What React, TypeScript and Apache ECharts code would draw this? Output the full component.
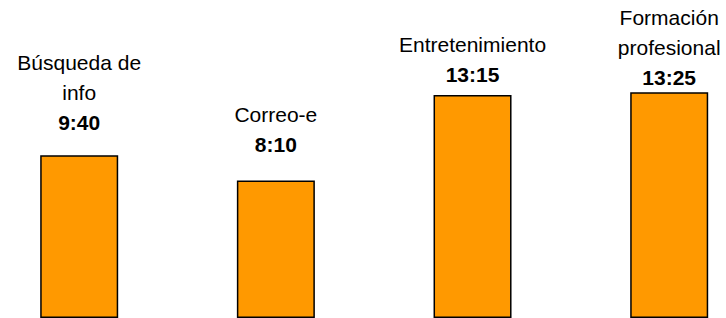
import React, { useEffect, useRef } from "react";
import * as echarts from "echarts";

const categories = ["Búsqueda de\ninfo", "Correo-e", "Entretenimiento", "Formación\nprofesional"];
const minutes = [580, 490, 795, 805];
const valueLabels = ["9:40", "8:10", "13:15", "13:25"];
const labelGap = [18, 21, 6, 0];

export default function App() {
  const ref = useRef<HTMLDivElement>(null);
  useEffect(() => {
    if (!ref.current) return;
    const chart = echarts.init(ref.current, null, { renderer: "svg" });
    const font = "'Liberation Sans', Arial, Helvetica, sans-serif";
    chart.setOption({
      animation: false,
      grid: { left: 0, right: 0, top: 37.5, bottom: 0, containLabel: false },
      xAxis: {
        type: "value",
        min: -0.4027,
        max: 3.2888,
        show: false,
        splitLine: { show: false },
      },
      yAxis: {
        type: "value",
        min: 0,
        max: 1000,
        show: false,
        splitLine: { show: false },
      },
      series: [
        {
          type: "bar",
          barWidth: 78,
          data: minutes.map((v, i) => ({
            value: [i, v],
            label: { distance: labelGap[i] },
          })),
          itemStyle: { color: "#FF9900", borderColor: "#000", borderWidth: 1.5 },
          label: {
            show: true,
            position: "top",
            formatter: (p: any) => {
              const name = categories[p.dataIndex]
                .split("\n")
                .map((s) => `{n|${s}}`)
                .join("\n");
              return `${name}\n{v|${valueLabels[p.dataIndex]}}`;
            },
            rich: {
              n: { fontFamily: font, fontSize: 21, lineHeight: 30, color: "#000" },
              v: { fontFamily: font, fontSize: 21, lineHeight: 30, fontWeight: "bold", color: "#000" },
            },
          },
        },
      ],
    });
    return () => chart.dispose();
  }, []);
  return (
    <div
      ref={ref}
      style={{ position: "fixed", left: 0, top: 0, width: 726, height: 318, background: "#fff" }}
    />
  );
}
